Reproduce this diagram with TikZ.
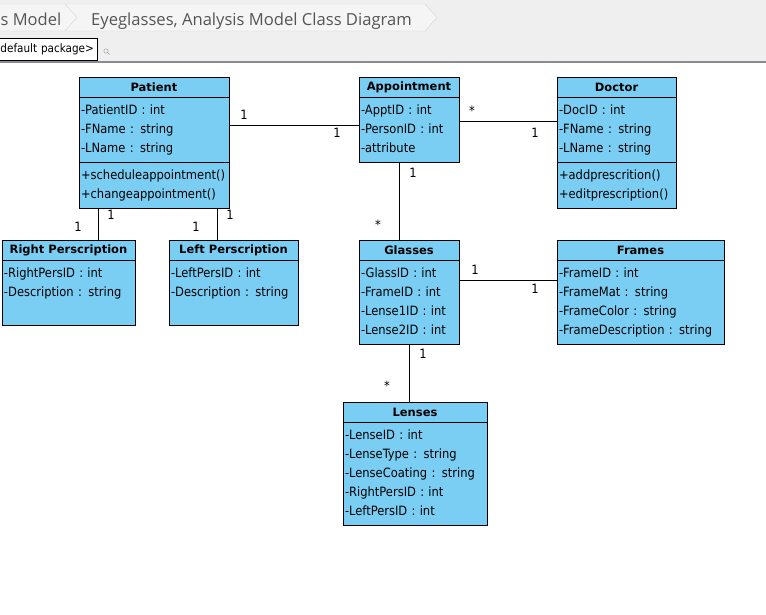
\documentclass[tikz,border=0pt]{standalone}
\usepackage{fontspec}
\setmainfont{DejaVu Sans}
\newfontfamily\memberfont{DejaVu Sans Condensed}
\newfontfamily\tabfont{Open Sans}
\usetikzlibrary{positioning}
\newcommand{\memberstyle}{\memberfont\fontsize{12.8}{19}\selectfont\spaceskip=.42em\relax}
\definecolor{classblue}{RGB}{122,206,244}
\definecolor{barback}{RGB}{239,239,239}
\definecolor{tabback}{RGB}{245,245,245}
\definecolor{tabline}{RGB}{210,210,210}
\definecolor{barline}{RGB}{138,138,146}
\definecolor{tabtext}{RGB}{85,85,85}
\begin{document}
\begin{tikzpicture}[x=1pt,y=-1pt,
classhead/.style={
% The shape:
rectangle,
draw=black,
line width=1pt,
fill=classblue,
outer sep=0pt,
minimum height=20pt,
font=\fontsize{11.5}{13}\selectfont\bfseries
},
classbody/.style={
rectangle,
draw=black,
line width=1pt,
fill=classblue,
outer sep=0pt,
inner xsep=2pt,
inner ysep=4pt,
align=left,
font=\memberstyle,
execute at begin node=\strut,
execute at end node=\strut
},
assoc/.style={draw=black,line width=1pt},
mult/.style={font=\memberfont\fontsize{12.8}{14}\selectfont,inner sep=0pt}
]
\useasboundingbox (0,0) rectangle (766,614);
% tab bar on top
\fill[barback] (0,0) rectangle (766,61);
\draw[barline,line width=2pt] (0,62) -- (766,62);
\draw[tabline,fill=tabback] (-2,4) -- (425,4) -- (437,17.5) -- (425,31) -- (-2,31) -- cycle;
\draw[tabline] (65,4) -- (77,17.5) -- (65,31);
\node[anchor=base west,inner sep=0pt,text=tabtext,font=\tabfont\fontsize{16.5}{18}\selectfont] (crumbmodel) at (0.5,25) {s Model};
\node[anchor=base west,inner sep=0pt,text=tabtext,font=\tabfont\fontsize{16.6}{18}\selectfont] (crumbdiagram) at (91,25) {Eyeglasses, Analysis Model Class Diagram};
\node[draw=black,line width=1pt,fill=white,anchor=north west,minimum width=98pt,minimum height=22pt,inner xsep=1pt,align=left,text width=96pt,font=\memberfont\fontsize{11.6}{12}\selectfont] (package) at (-1,38) {default package>};
\draw[gray!80] (106,51) circle (2.2);
\draw[gray!80] (107.6,52.6) -- (109.5,54.5);

% classes
\node[classhead,minimum width=150pt,anchor=north west] (patient) at (79,77) {Patient};
\node[classbody,text width=146pt,below=0pt of patient] (patientattr) {-PatientID : int\\-FName : string\\-LName : string};
\node[classbody,text width=146pt,below=0pt of patientattr] (patientops) {+scheduleappointment()\\+changeappointment()};

\node[classhead,minimum width=100pt,anchor=north west] (appt) at (359,77) {Appointment};
\node[classbody,text width=96pt,below=0pt of appt] (apptattr) {-ApptID : int\\-PersonID : int\\-attribute};

\node[classhead,minimum width=119pt,anchor=north west] (doctor) at (557,77) {Doctor};
\node[classbody,text width=115pt,below=0pt of doctor] (doctorattr) {-DocID : int\\-FName : string\\-LName : string};
\node[classbody,text width=115pt,below=0pt of doctorattr] (doctorops) {+addprescrition()\\+editprescription()};

\node[classhead,minimum width=133pt,anchor=north west] (rightpers) at (2,240) {Right Perscription};
\node[classbody,text width=129pt,below=0pt of rightpers] (rightpersattr) {-RightPersID : int\\-Description : string\\~};

\node[classhead,minimum width=129pt,anchor=north west] (leftpers) at (169,240) {Left Perscription};
\node[classbody,text width=125pt,below=0pt of leftpers] (leftpersattr) {-LeftPersID : int\\-Description : string\\~};

\node[classhead,minimum width=100pt,anchor=north west] (glasses) at (359,240) {Glasses};
\node[classbody,text width=96pt,below=0pt of glasses] (glassesattr) {-GlassID : int\\-FrameID : int\\-Lense1ID : int\\-Lense2ID : int};

\node[classhead,minimum width=167pt,anchor=north west] (frames) at (557,240) {Frames};
\node[classbody,text width=163pt,below=0pt of frames] (framesattr) {-FrameID : int\\-FrameMat : string\\-FrameColor : string\\-FrameDescription : string};

\node[classhead,minimum width=144pt,anchor=north west] (lenses) at (343,402) {Lenses};
\node[classbody,text width=140pt,below=0pt of lenses] (lensesattr) {-LenseID : int\\-LenseType : string\\-LenseCoating : string\\-RightPersID : int\\-LeftPersID : int};

% associations
\draw[assoc] ([yshift=-28pt]patientattr.north east) -- ([yshift=-28pt]patientattr.north east -| apptattr.west)
  node[mult,at start,xshift=15pt,yshift=10pt] {1} node[mult,at end,xshift=-22pt,yshift=-8pt] {1};
\draw[assoc] ([yshift=-24pt]apptattr.north east) -- ([yshift=-24pt]apptattr.north east -| doctorattr.west)
  node[mult,at start,xshift=13pt,yshift=10pt] {*} node[mult,at end,xshift=-22pt,yshift=-12pt] {1};
\draw[assoc] ([yshift=-20pt]glassesattr.north east) -- ([yshift=-20pt]glassesattr.north east -| framesattr.west)
  node[mult,at start,xshift=16pt,yshift=10pt] {1} node[mult,at end,xshift=-22pt,yshift=-9pt] {1};
\draw[assoc] ([xshift=-10pt]apptattr.south) -- ([xshift=-10pt]apptattr.south |- glasses.north)
  node[mult,at start,xshift=14pt,yshift=-11pt] {1} node[mult,at end,xshift=-21pt,yshift=15pt] {*};
\draw[assoc] (glassesattr.south) -- (glassesattr.south |- lenses.north)
  node[mult,at start,xshift=14pt,yshift=-10pt] {1} node[mult,at end,xshift=-22pt,yshift=16pt] {*};
\draw[assoc] ([xshift=19pt]patientops.south west) -- ([xshift=19pt]patientops.south west |- rightpers.north)
  node[mult,at start,xshift=13pt,yshift=-7pt] {1} node[mult,at end,xshift=-20pt,yshift=13pt] {1};
\draw[assoc] ([xshift=-12pt]patientops.south east) -- ([xshift=-12pt]patientops.south east |- leftpers.north)
  node[mult,at start,xshift=13pt,yshift=-7pt] {1} node[mult,at end,xshift=-21pt,yshift=13pt] {1};
\end{tikzpicture}
\end{document}
